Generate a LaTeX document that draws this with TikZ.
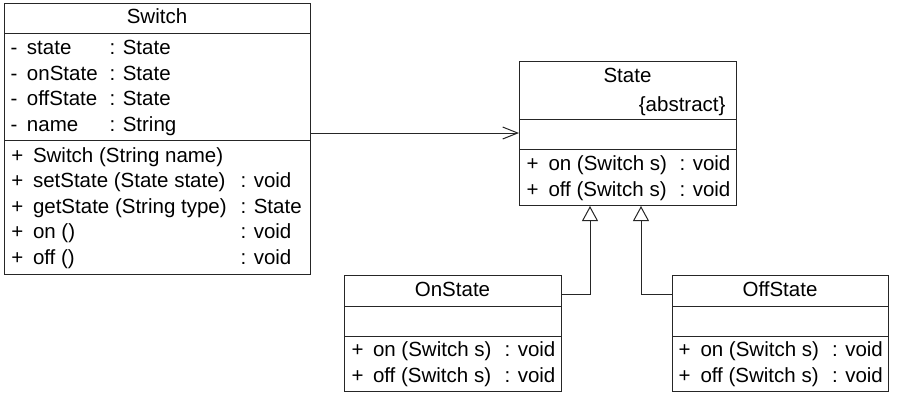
\documentclass[tikz,border=0pt]{standalone}
\usepackage{fontspec}
\setmainfont{Liberation Sans}
\usetikzlibrary{arrows.meta}
\begin{document}
\begin{tikzpicture}[x=1pt,y={(0,-1pt)},
  line width=1pt,
  box/.style={draw=black!85, line width=1pt, anchor=north west, inner sep=0pt},
  sep/.style={draw=black!85, line width=1pt},
  txt/.style={anchor=base west, inner sep=0pt, font=\fontsize{20.5}{24}\selectfont, text=black},
  ttl/.style={anchor=base, inner sep=0pt, font=\fontsize{20.5}{24}\selectfont, text=black},
  assoc/.style={draw=black!85, line width=1pt, -{Straight Barb[length=15pt,width=12pt,line width=1pt]}},
  gen/.style={draw=black!85, line width=1pt, -{Triangle[open,length=15pt,width=16pt,line width=1pt,fill=white]}}]
\useasboundingbox (0,0) rectangle (897,400);
\fill[white] (0,0) rectangle (897,400);

% ---------- Switch ----------
\node[box, minimum width=306pt, minimum height=271pt] (sw) at (4,3) {};
\draw[sep] (4,33) -- (310,33);
\draw[sep] (4,140) -- (310,140);
\node[ttl] (swt) at (157,23.5) {Switch};
\foreach \y/\n/\t [count=\i] in {54.5/state/State, 80/onState/State, 105.5/offState/State, 131/name/String}{
  \node[txt] (swam\i) at (10,\y) {-};
  \node[txt] (swan\i) at (26.5,\y) {\n};
  \node[txt] (swat\i) at (109,\y) {: \t};
}
\node[txt] (swm1p) at (11,162) {+};
\node[txt] (swm1) at (32.5,162) {Switch (String name)};
\node[txt] (swm2p) at (11,187.5) {+};
\node[txt] (swm2) at (32.5,187.5) {setState (State state)};
\node[txt] (swm2t) at (240,187.5) {: void};
\node[txt] (swm3p) at (11,213) {+};
\node[txt] (swm3) at (32.5,213) {getState (String type)};
\node[txt] (swm3t) at (240,213) {: State};
\node[txt] (swm4p) at (11,238.5) {+};
\node[txt] (swm4) at (32.5,238.5) {on ()};
\node[txt] (swm4t) at (240,238.5) {: void};
\node[txt] (swm5p) at (11,264) {+};
\node[txt] (swm5) at (32.5,264) {off ()};
\node[txt] (swm5t) at (240,264) {: void};

% ---------- State ----------
\node[box, minimum width=217pt, minimum height=144pt] (st) at (519,61) {};
\draw[sep] (519,119) -- (736,119);
\draw[sep] (519,149) -- (736,149);
\node[ttl] (stt) at (627.5,82.5) {State};
\node[anchor=base east, inner sep=0pt, font=\fontsize{20.5}{24}\selectfont] (sta) at (726,111.5) {\{abstract\}};
\node[txt] (stm1p) at (526,170.5) {+};
\node[txt] (stm1) at (548,170.5) {on (Switch s)};
\node[txt] (stm1t) at (679,170.5) {: void};
\node[txt] (stm2p) at (526,196) {+};
\node[txt] (stm2) at (548,196) {off (Switch s)};
\node[txt] (stm2t) at (679,196) {: void};

% ---------- OnState ----------
\node[box, minimum width=217pt, minimum height=116pt] (on) at (344,275) {};
\draw[sep] (344,306) -- (561,306);
\draw[sep] (344,336) -- (561,336);
\node[ttl] (ont) at (452.5,296.5) {OnState};
\node[txt] (onm1p) at (351,356.5) {+};
\node[txt] (onm1) at (372.5,356.5) {on (Switch s)};
\node[txt] (onm1t) at (504,356.5) {: void};
\node[txt] (onm2p) at (351,382.5) {+};
\node[txt] (onm2) at (372.5,382.5) {off (Switch s)};
\node[txt] (onm2t) at (504,382.5) {: void};

% ---------- OffState ----------
\node[box, minimum width=216pt, minimum height=116pt] (off) at (672,275) {};
\draw[sep] (672,306) -- (888,306);
\draw[sep] (672,336) -- (888,336);
\node[ttl] (offt) at (780,296.5) {OffState};
\node[txt] (ofm1p) at (678,356.5) {+};
\node[txt] (ofm1) at (700,356.5) {on (Switch s)};
\node[txt] (ofm1t) at (831.5,356.5) {: void};
\node[txt] (ofm2p) at (678,382.5) {+};
\node[txt] (ofm2) at (700,382.5) {off (Switch s)};
\node[txt] (ofm2t) at (831.5,382.5) {: void};

% ---------- connectors ----------
\coordinate (amid) at (519,133);
\draw[assoc] (sw.east |- amid) -- (st.west |- amid);
\coordinate (j1) at (590,294);
\coordinate (j2) at (641,294);
\draw[gen] (on.east |- j1) -| (j1 |- st.south);
\draw[gen] (off.west |- j2) -| (j2 |- st.south);
\end{tikzpicture}
\end{document}
